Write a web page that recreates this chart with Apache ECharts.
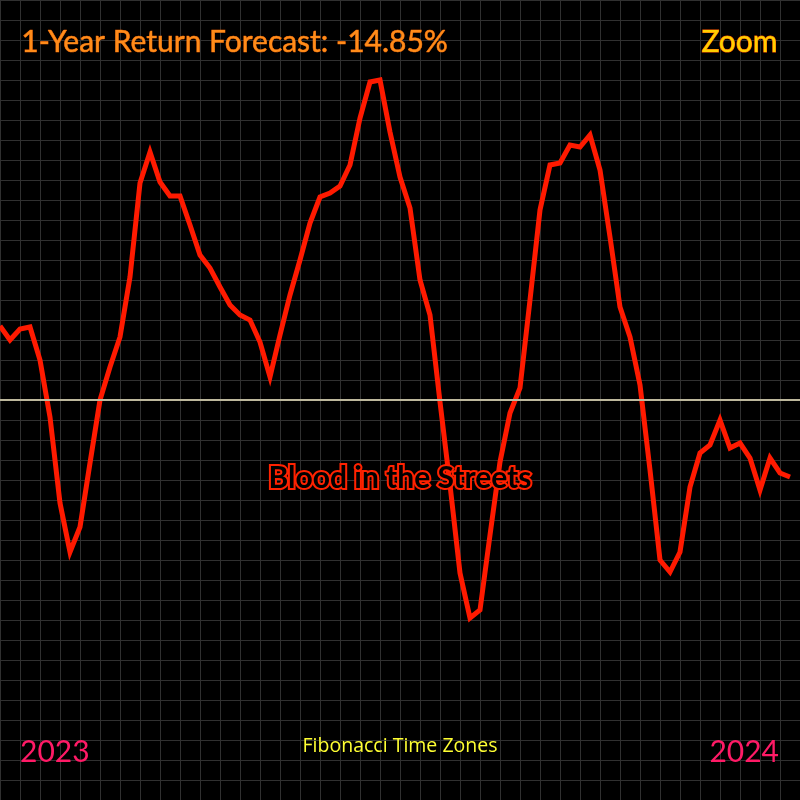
<!DOCTYPE html>
<html><head><meta charset="utf-8">
<script src="https://cdn.jsdelivr.net/npm/echarts@6/dist/echarts.min.js"></script>
<style>html,body{margin:0;padding:0;background:#000}#c{width:800px;height:800px}</style>
</head><body><div id="c"></div>
<script>
const titleText = '1-Year Return Forecast: -14.85%';
const zoomText = 'Zoom';
const centerText = 'Blood in the Streets';
const startLabel = '2023';
const endLabel = '2024';
const footerText = 'Fibonacci Time Zones';
const values = [7.4, 6.0, 7.1, 7.3, 4.0, -1.7, -10.3, -15.2, -12.7, -6.3,
  0.0, 3.3, 6.3, 12.3, 21.7, 24.8, 21.8, 20.4, 20.4, 17.5,
  14.5, 13.2, 11.3, 9.5, 8.5, 8.0, 5.8, 2.3, 6.5, 10.5,
  14.0, 17.7, 20.3, 20.7, 21.4, 23.5, 28.2, 31.8, 32.0, 26.8,
  22.3, 19.2, 12.0, 8.5, -0.2, -8.5, -17.3, -21.8, -21.0, -13.5,
  -6.2, -1.3, 1.2, 10.0, 19.0, 23.5, 23.7, 25.5, 25.3, 26.5,
  23.0, 16.3, 9.3, 6.3, 1.5, -7.0, -16.0, -17.2, -15.2, -8.7,
  -5.3, -4.5, -2.0, -4.8, -4.3, -5.8, -9.0, -5.8, -7.3, -7.7];
const chart = echarts.init(document.getElementById('c'));
const font = 'Lato';
chart.setOption({
  backgroundColor: '#000',
  animation: false,
  grid: {left: 0, right: 0, top: 0, bottom: 0},
  xAxis: {type: 'value', min: 0, max: 80, interval: 2,
    axisLine: {show: false}, axisTick: {show: false}, axisLabel: {show: false},
    splitLine: {show: true, lineStyle: {color: '#303030', width: 1}}},
  yAxis: {type: 'value', min: -40, max: 40, interval: 2,
    axisLine: {show: false}, axisTick: {show: false}, axisLabel: {show: false},
    splitLine: {show: true, lineStyle: {color: '#303030', width: 1}}},
  series: [{
    type: 'line', symbol: 'none',
    data: values.map((v, i) => [i, v]),
    lineStyle: {color: '#ff1a00', width: 5, join: 'miter'},
    markLine: {silent: true, symbol: 'none', label: {show: false},
      lineStyle: {color: '#bdb89c', width: 2, type: 'solid'},
      data: [{yAxis: 0}]}
  }],
  graphic: [
    {type: 'text', left: 21, top: 27, z: 100, style: {text: titleText, font: '30px ' + font,
      fill: '#ff8c1a', stroke: '#ff6600', lineWidth: 0.6}},
    {type: 'text', right: 22, top: 27, z: 100, style: {text: zoomText, font: '30px ' + font,
      fill: '#ffd000', stroke: '#ff5a00', lineWidth: 1}},
    {type: 'text', left: 'center', top: 461, z: 100, style: {text: centerText, font: 'bold 30px ' + font,
      fill: '#000', stroke: '#ff2200', lineWidth: 4}},
    {type: 'text', left: 20, top: 737, z: 100, style: {text: startLabel, font: '30px ' + font,
      fill: '#ff1a66'}},
    {type: 'text', right: 21, top: 737, z: 100, style: {text: endLabel, font: '30px ' + font,
      fill: '#ff1a66'}},
    {type: 'text', left: 'center', top: 736, z: 100, style: {text: footerText, font: '19.5px "Open Sans"',
      fill: '#ffff33'}}
  ]
});
</script></body></html>
